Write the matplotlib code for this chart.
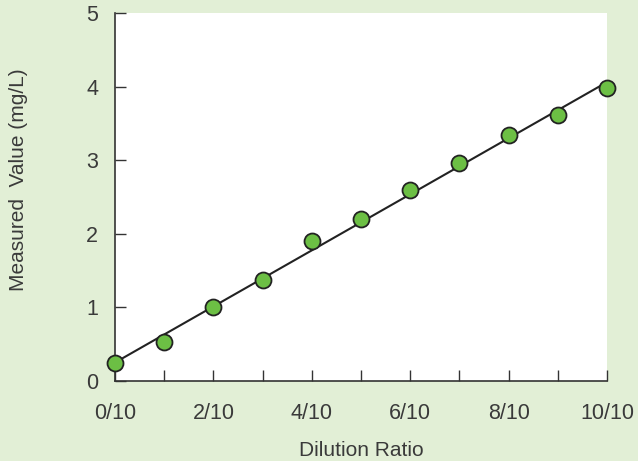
import numpy as np
import matplotlib.pyplot as plt

plt.rcParams['font.family'] = ['Liberation Sans', 'DejaVu Sans']

ratio = np.arange(0, 11)
measured = [0.24, 0.53, 1.00, 1.37, 1.90, 2.20, 2.59, 2.96, 3.34, 3.61, 3.98]
xtick_pos = [0, 2, 4, 6, 8, 10]
xtick_labels = ['0/10', '2/10', '4/10', '6/10', '8/10', '10/10']

bg = '#e2efd6'
txt = '#3a3a3a'

fig = plt.figure(figsize=(6.38, 4.61), dpi=100, facecolor=bg)
ax = fig.add_axes([0.1803, 0.1735, 0.7712, 0.7983])
ax.set_facecolor('white')

# least-squares line through the measurements
slope, intercept = np.polyfit(ratio, measured, 1)
ax.plot([0, 10], [intercept, intercept + 10 * slope], color='#222222', lw=1.5, zorder=2)
ax.plot(ratio, measured, 'o', ms=11.5, mfc='#6cbf44', mec='#222222', mew=1.3,
        clip_on=False, zorder=3)

ax.set_xlim(0, 10)
ax.set_ylim(0, 5)
ax.set_xticks(range(11))
ax.set_xticklabels(['' if i not in xtick_pos else xtick_labels[xtick_pos.index(i)]
                    for i in range(11)])
ax.set_yticks(range(6))

for s in ['top', 'right']:
    ax.spines[s].set_visible(False)
for s in ['left', 'bottom']:
    ax.spines[s].set_color('#333333')
    ax.spines[s].set_linewidth(1.2)

ax.tick_params(direction='in', length=8, width=1, color='#333333',
               labelsize=15.5, labelcolor=txt)
ax.tick_params(axis='x', pad=16)
ax.tick_params(axis='y', pad=12)

ax.set_xlabel('Dilution Ratio', fontsize=15, color=txt, va='center')
ax.set_ylabel('Measured  Value (mg/L)', fontsize=15, color=txt, va='center')
ax.xaxis.set_label_coords(0.5, -0.1875)
ax.yaxis.set_label_coords(-0.197, 0.546)

fig.savefig('out.png', dpi=100, facecolor=bg)
